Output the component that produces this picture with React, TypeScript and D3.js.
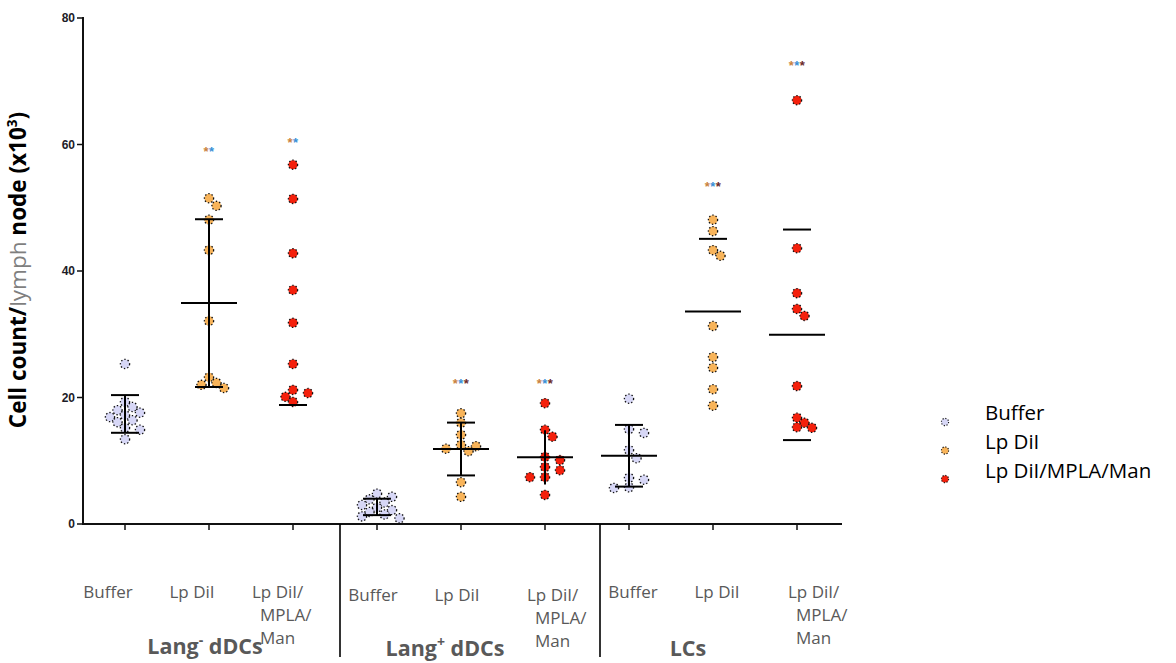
import React from 'react';
import * as d3 from 'd3';

// ---------- data ----------
const groupNames = ['Lang', 'Lang', 'LCs'];
const groupSup = ['-', '+', ''];
const groupSuffix = [' dDCs', ' dDCs', ''];
const treatments = ['Buffer', 'Lp DiI', 'Lp DiI/MPLA/Man'];
const categoryLabelLines = [['Buffer'], ['Lp DiI'], ['Lp DiI/', 'MPLA/', 'Man']];
const yTicks = [0, 20, 40, 60, 80];

const langNegBuffer = [25.3, 19.3, 18.5, 18.0, 17.6, 17.2, 16.9, 16.4, 16.1, 15.2, 14.9, 13.4];
const langNegLpDiI = [51.5, 50.3, 48.1, 43.3, 32.1, 23.2, 22.3, 22.0, 21.5];
const langNegMpla = [56.8, 51.4, 42.8, 37.0, 31.8, 25.3, 21.2, 20.7, 20.1, 19.3];
const langPosBuffer = [4.8, 4.3, 3.9, 3.4, 3.0, 2.6, 2.2, 1.9, 1.5, 1.2, 0.9];
const langPosLpDiI = [17.5, 16.0, 14.1, 12.5, 12.3, 11.9, 11.5, 6.6, 4.3];
const langPosMpla = [19.1, 14.9, 13.8, 10.6, 10.1, 9.0, 8.5, 7.4, 7.4, 4.6];
const lcBuffer = [19.8, 15.0, 14.4, 11.7, 10.4, 7.3, 7.0, 5.8, 5.7];
const lcLpDiI = [48.1, 46.3, 43.3, 42.4, 31.3, 26.4, 24.7, 21.3, 18.7];
const lcMpla = [67.0, 43.6, 36.5, 34.0, 32.9, 21.8, 16.8, 16.0, 15.3, 15.2];

const seriesValues = [
  langNegBuffer, langNegLpDiI, langNegMpla,
  langPosBuffer, langPosLpDiI, langPosMpla,
  lcBuffer, lcLpDiI, lcMpla,
];
const significance = ['', '**', '**', '', '***', '***', '', '***', '***'];
const significanceLevel = [0, 59.1, 60.6, 0, 22.5, 22.5, 0, 53.6, 72.7];
// which parts of mean / SD bars are visible in the source figure: [mean, stem, topCap, bottomCap]
const barParts = [
  [false, true, true, true],
  [true, true, true, true],
  [false, false, false, true],
  [false, true, true, true],
  [true, true, true, true],
  [true, true, false, false],
  [true, true, true, true],
  [true, false, true, false],
  [true, false, true, true],
];

const colors = ['#d7d7f6', '#f8b45a', '#f4200c'];
const starColors = ['#c9823e', '#3b8fd6', '#6b2a2a'];

// ---------- layout ----------
const W = 1176;
const H = 663;
const axisX = 83;
const axisY = 524;
const topY = 18;
const axisEnd = 842;
const labelDx = [-17, -17, -41, -4, -4, -18, 4, 4, -9];
const labelY = [598, 598, 598, 601, 601, 601, 598, 598, 598];
const groupLabelX = [205, 445, 688];
const groupLabelY = [654, 656, 656];
const dividers = [340, 600];

function swarm(values: number[], cx: number, y: (v: number) => number, diam: number, step: number) {
  const placed: { x: number; y: number; v: number }[] = [];
  const sorted = values.slice().sort((a, b) => b - a);
  for (const v of sorted) {
    const py = y(v);
    let px = cx;
    for (let k = 0; k < 40; k++) {
      const off = k === 0 ? 0 : Math.ceil(k / 2) * step * (k % 2 === 1 ? 1 : -1);
      const cand = cx + off;
      const ok = placed.every((p) => Math.hypot(p.x - cand, p.y - py) >= diam);
      if (ok) {
        px = cand;
        break;
      }
    }
    placed.push({ x: px, y: py, v });
  }
  return placed;
}

export default function App() {
  const categories = d3.range(9).map((i) => `c${i}`);
  const x = d3.scalePoint<string>().domain(categories).range([125, 797]);
  const y = d3.scaleLinear().domain([0, 80]).range([axisY, topY]);

  const font = '"Open Sans", Lato, sans-serif';

  return (
    <svg width={W} height={H} style={{ position: 'absolute', left: 0, top: 0, background: '#fff' }}>
      <rect width={W} height={H} fill="#fff" />
      {/* y axis */}
      <line x1={axisX} x2={axisX} y1={topY - 1} y2={axisY + 1} stroke="#111" strokeWidth={2} />
      {yTicks.map((t) => (
        <g key={t}>
          <line x1={axisX - 6} x2={axisX} y1={y(t)} y2={y(t)} stroke="#111" strokeWidth={1.5} />
          <text x={axisX - 8} y={y(t) + 4} textAnchor="end" fontFamily='"Liberation Sans", Arial, sans-serif' fontWeight="bold" fontSize={12} fill="#1c1c28">
            {t}
          </text>
        </g>
      ))}
      {/* x axis */}
      <line x1={axisX} x2={axisEnd} y1={axisY} y2={axisY} stroke="#111" strokeWidth={2} />
      {categories.map((c) => (
        <line key={c} x1={x(c)} x2={x(c)} y1={axisY} y2={axisY + 6} stroke="#111" strokeWidth={1.5} />
      ))}
      {dividers.map((d) => (
        <line key={d} x1={d} x2={d} y1={axisY} y2={657} stroke="#000" strokeWidth={1.6} />
      ))}

      {/* points */}
      {seriesValues.map((vals, i) => {
        const cx = x(categories[i]) as number;
        const pts = swarm(vals, cx, y, 8.6, 7.5);
        const col = colors[i % 3];
        return (
          <g key={i}>
            {pts.map((p, j) => (
              <g key={j}>
                <circle cx={p.x} cy={p.y} r={4.6} fill={col} />
                <circle cx={p.x} cy={p.y} r={4.6} fill="none" stroke="#111" strokeWidth={1.3} strokeDasharray="1.4 2" />
              </g>
            ))}
          </g>
        );
      })}

      {/* mean & SD */}
      {seriesValues.map((vals, i) => {
        const cx = x(categories[i]) as number;
        const m = d3.mean(vals) as number;
        const sd = d3.deviation(vals) as number;
        const [showMean, showStem, showTop, showBottom] = barParts[i];
        return (
          <g key={`b${i}`} stroke="#000" strokeWidth={2}>
            {showMean && <line x1={cx - 28} x2={cx + 28} y1={y(m)} y2={y(m)} />}
            {showStem && <line x1={cx} x2={cx} y1={y(m + sd)} y2={y(m - sd)} />}
            {showTop && <line x1={cx - 14} x2={cx + 14} y1={y(m + sd)} y2={y(m + sd)} />}
            {showBottom && <line x1={cx - 14} x2={cx + 14} y1={y(m - sd)} y2={y(m - sd)} />}
          </g>
        );
      })}

      {/* significance */}
      {significance.map((s, i) =>
        s ? (
          <text key={`s${i}`} x={x(categories[i])} y={y(significanceLevel[i]) + 6} textAnchor="middle" fontFamily='"Liberation Sans", Arial, sans-serif' fontWeight="bold" fontSize={13} letterSpacing={0.5}>
            {s.split('').map((ch, k) => (
              <tspan key={k} fill={starColors[k % 3]}>
                {ch}
              </tspan>
            ))}
          </text>
        ) : null
      )}

      {/* category labels */}
      {categories.map((c, i) => {
        const lines = categoryLabelLines[i % 3];
        const cx = (x(c) as number) + labelDx[i];
        const multi = lines.length > 1;
        return (
          <text key={`l${i}`} x={cx} y={labelY[i]} textAnchor={multi ? 'start' : 'middle'} fontFamily={font} fontSize={17} fill="#595959">
            {lines.map((ln, k) => (
              <tspan key={k} x={multi ? cx + (k === 0 ? 0 : 8) : cx} dy={k === 0 ? 0 : 23}>
                {ln}
              </tspan>
            ))}
          </text>
        );
      })}

      {/* group labels */}
      {groupNames.map((g, i) => (
        <text key={`g${i}`} x={groupLabelX[i]} y={groupLabelY[i]} textAnchor="middle" fontFamily={font} fontWeight="bold" fontSize={21.5} fill="#595959">
          {g}
          {groupSup[i] && (
            <tspan fontSize={14} dy={-9}>
              {groupSup[i]}
            </tspan>
          )}
          {groupSuffix[i] && <tspan dy={groupSup[i] ? 9 : 0}>{groupSuffix[i]}</tspan>}
        </text>
      ))}

      {/* y title */}
      <text transform="translate(26,270) rotate(-90)" textAnchor="middle" fontFamily={font} fontWeight="bold" fontSize={22.5} fill="#000">
        Cell count/
        <tspan fill="#7f7f7f" fontWeight="normal">lymph</tspan>
        <tspan> node (x10</tspan>
        <tspan fontSize={13.5} dy={-9}>3</tspan>
        <tspan dy={9}>)</tspan>
      </text>

      {/* legend */}
      {treatments.map((t, i) => (
        <g key={`lg${i}`}>
          <circle cx={945} cy={422 + i * 28.5} r={3.6} fill={colors[i]} />
          <circle cx={945} cy={422 + i * 28.5} r={3.6} fill="none" stroke="#111" strokeWidth={1.1} strokeDasharray="1.2 1.6" />
          <text x={985} y={420 + i * 29} fontFamily={font} fontSize={20.5} fill="#000">
            {t}
          </text>
        </g>
      ))}
    </svg>
  );
}
